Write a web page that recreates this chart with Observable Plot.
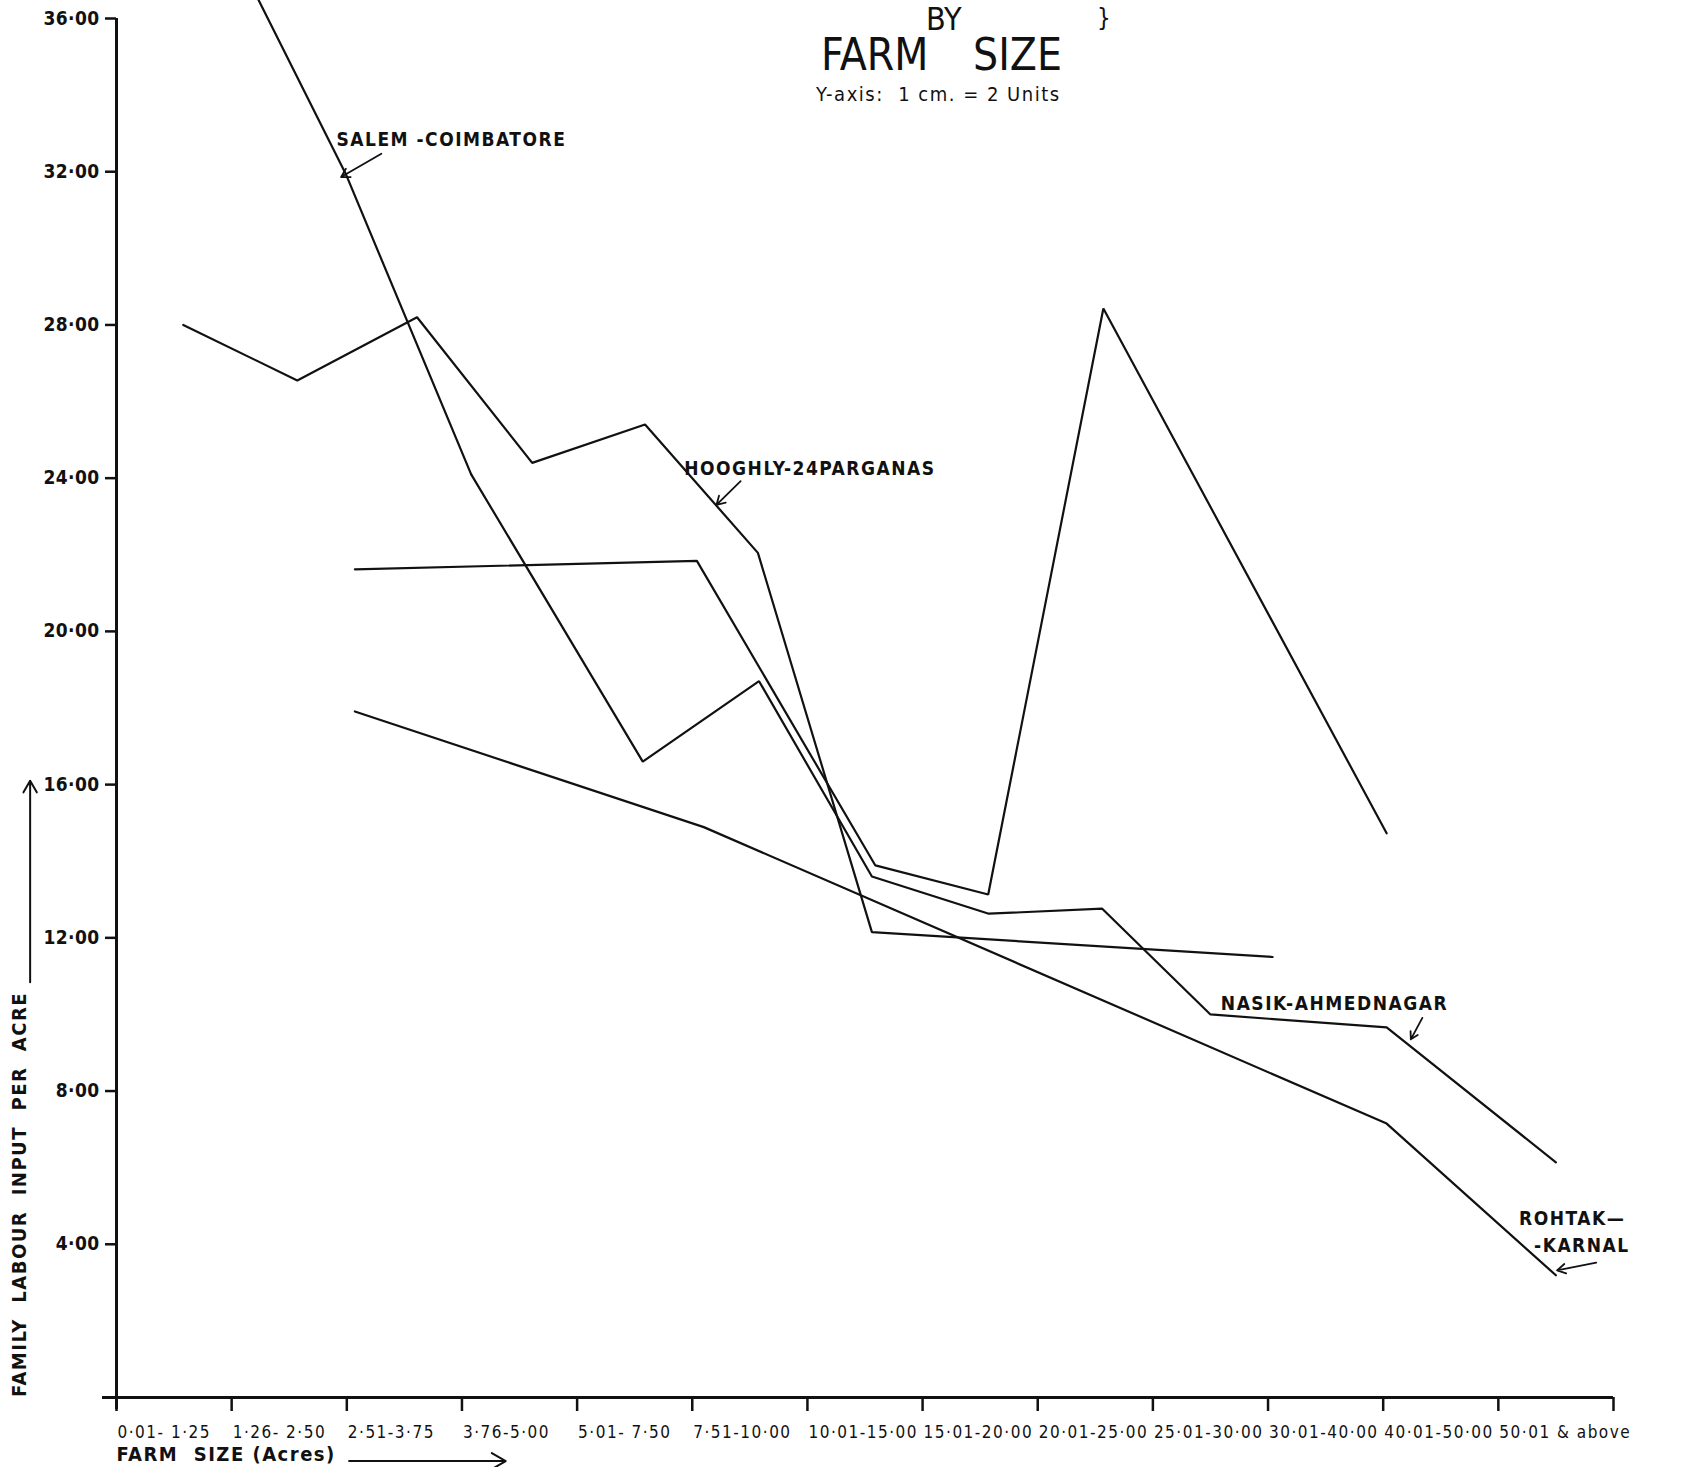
<!DOCTYPE html>
<html>
<head>
<meta charset="utf-8">
<script src="https://cdn.jsdelivr.net/npm/d3@7"></script>
<script src="https://cdn.jsdelivr.net/npm/@observablehq/plot@0.6"></script>
<style>
  body { margin: 0; background: #fff; }
  #wrap { position: relative; width: 1683px; height: 1467px; overflow: hidden; background: #fff; }
  .t { position: absolute; font-family: "DejaVu Sans Condensed", "Liberation Sans Narrow", "DejaVu Sans", sans-serif; font-stretch: condensed; color: #111; white-space: pre; line-height: 1.2; }
</style>
</head>
<body>
<div id="wrap">
  <div class="t" style="left:926px;top:0px;font-size:32px;">BY</div>
  <div class="t" style="left:1097px;top:4px;font-size:24px;">}</div>
  <div class="t" style="left:821px;top:29px;font-size:44px;">FARM</div>
  <div class="t" style="left:973px;top:29px;font-size:44px;">SIZE</div>
  <div class="t" style="left:816px;top:82px;font-size:20px;letter-spacing:1.5px;">Y-axis:  1 cm. = 2 Units</div>
</div>
<script>
// Farm-size classes (x axis), one per class interval between ticks
const farmSizeClasses = ["0·01- 1·25", "1·26- 2·50", "2·51-3·75", "3·76-5·00", "5·01- 7·50", "7·51-10·00",
  "10·01-15·00", "15·01-20·00", "20·01-25·00", "25·01-30·00", "30·01-40·00", "40·01-50·00", "50·01 & above"];
const yTicks = [4, 8, 12, 16, 20, 24, 28, 32, 36];

// Positions along the farm-size axis (in class widths from the origin) and values
const hooghlyX = [0.58, 1.57, 2.61, 3.61, 4.59, 5.57, 6.56, 10.04];
const hooghlyY = [28.0, 26.55, 28.2, 24.4, 25.4, 22.05, 12.15, 11.5];

const salemX = [0.58, 1.99, 3.08];
const salemY = [40.4, 31.95, 24.1];

const nasikX = [3.08, 4.57, 5.58, 6.56, 7.575, 8.56, 9.5, 11.03, 12.5];
const nasikY = [24.1, 16.6, 18.7, 13.6, 12.63, 12.76, 10.0, 9.66, 6.14];

const unlabelledX = [2.07, 5.04, 6.59, 7.57, 8.57, 11.03];
const unlabelledY = [21.62, 21.84, 13.89, 13.13, 28.43, 14.73];

const rohtakX = [2.07, 5.1, 11.03, 12.5];
const rohtakY = [17.91, 14.89, 7.15, 3.19];

const seriesList = [
  ["Hooghly-24 Parganas", hooghlyX, hooghlyY],
  ["Salem-Coimbatore", salemX, salemY],
  ["Nasik-Ahmednagar", nasikX, nasikY],
  ["Unlabelled", unlabelledX, unlabelledY],
  ["Rohtak-Karnal", rohtakX, rohtakY]
];
const rows = seriesList.flatMap(([name, xs, ys]) => xs.map((x, i) => ({series: name, pos: x, value: ys[i]})));

const FONT = '"DejaVu Sans Condensed", "Liberation Sans Narrow", "DejaVu Sans", sans-serif';
const ink = "#111";
const c = v => () => v;

const chart = Plot.plot({
  width: 1683,
  height: 1467,
  marginLeft: 116,
  marginRight: 70,
  marginTop: 18,
  marginBottom: 70,
  x: {domain: [0, 13]},
  y: {domain: [0, 36]},
  style: {fontFamily: FONT, fontSize: "19px", fontWeight: "bold", letterSpacing: "1.5px", color: ink,
    background: "#fff", overflow: "hidden", fontStretch: "condensed"},
  marks: [
    // axes
    Plot.axisY(yTicks, {tickSize: 11, tickPadding: 6, strokeWidth: 2.5, fontSize: 19, label: null,
      tickFormat: d => d.toFixed(2).replace(".", "·")}),
    Plot.axisX(d3.range(14), {tickSize: 14, strokeWidth: 2.5, label: null, tickFormat: () => ""}),
    Plot.ruleX([0], {stroke: ink, strokeWidth: 3, insetBottom: -12}),
    Plot.ruleY([0], {stroke: ink, strokeWidth: 3, insetLeft: -14}),
    Plot.text(farmSizeClasses, {x: (d, i) => i, frameAnchor: "bottom", textAnchor: "start", dx: 1, dy: 40,
      fontSize: 17, fontWeight: "normal", fill: ink, ariaLabel: "class-labels"}),
    Plot.text(["FARM  SIZE (Acres)"], {x: c(0), frameAnchor: "bottom", textAnchor: "start", dy: 63, fontSize: 20, fill: ink}),
    Plot.arrow([0], {x1: c(2.02), x2: c(3.38), y1: c(-1.66), y2: c(-1.66), stroke: ink, strokeWidth: 2, headLength: 12}),
    Plot.text(["FAMILY  LABOUR  INPUT  PER  ACRE"], {x: c(-0.84), y: c(5.3), rotate: -90, fontSize: 20, fill: ink,
      ariaLabel: "y-title"}),
    Plot.arrow([0], {x1: c(-0.75), x2: c(-0.75), y1: c(10.84), y2: c(16.1), stroke: ink, strokeWidth: 2, headLength: 10}),

    // data lines
    Plot.line(rows, {x: "pos", y: "value", z: "series", stroke: ink, strokeWidth: 2.2, strokeLinejoin: "miter"}),

    // series annotations
    Plot.text(["SALEM -COIMBATORE"], {x: c(1.91), y: c(32.83), textAnchor: "start", fontSize: 19, fill: ink}),
    Plot.arrow([0], {x1: c(2.30), y1: c(32.47), x2: c(1.95), y2: c(31.86), stroke: ink, strokeWidth: 1.8, headLength: 8}),
    Plot.text(["HOOGHLY-24PARGANAS"], {x: c(4.93), y: c(24.23), textAnchor: "start", fontSize: 19, fill: ink}),
    Plot.arrow([0], {x1: c(5.42), y1: c(23.92), x2: c(5.21), y2: c(23.30), stroke: ink, strokeWidth: 1.8, headLength: 8}),
    Plot.text(["NASIK-AHMEDNAGAR"], {x: c(9.59), y: c(10.27), textAnchor: "start", fontSize: 19, fill: ink}),
    Plot.arrow([0], {x1: c(11.34), y1: c(9.91), x2: c(11.24), y2: c(9.35), stroke: ink, strokeWidth: 1.8, headLength: 8}),
    Plot.text(["ROHTAK—"], {x: c(12.18), y: c(4.67), textAnchor: "start", fontSize: 19, fill: ink}),
    Plot.text(["-KARNAL"], {x: c(12.31), y: c(3.97), textAnchor: "start", fontSize: 19, fill: ink}),
    Plot.arrow([0], {x1: c(12.85), y1: c(3.52), x2: c(12.51), y2: c(3.32), stroke: ink, strokeWidth: 1.8, headLength: 8})
  ]
});
// per-group letter spacing tweaks
chart.querySelectorAll('g[aria-label="class-labels"]').forEach(g => { g.style.letterSpacing = "0px"; g.style.fontWeight = "normal"; });
chart.querySelectorAll('g[aria-label="y-axis tick label"]').forEach(g => g.style.letterSpacing = "0.4px");
chart.querySelectorAll('g[aria-label="y-title"]').forEach(g => g.style.letterSpacing = "1.6px");
chart.style.position = "absolute";
chart.style.left = "0px";
chart.style.top = "0px";
const wrap = document.getElementById("wrap");
wrap.insertBefore(chart, wrap.firstChild);
</script>
</body>
</html>
